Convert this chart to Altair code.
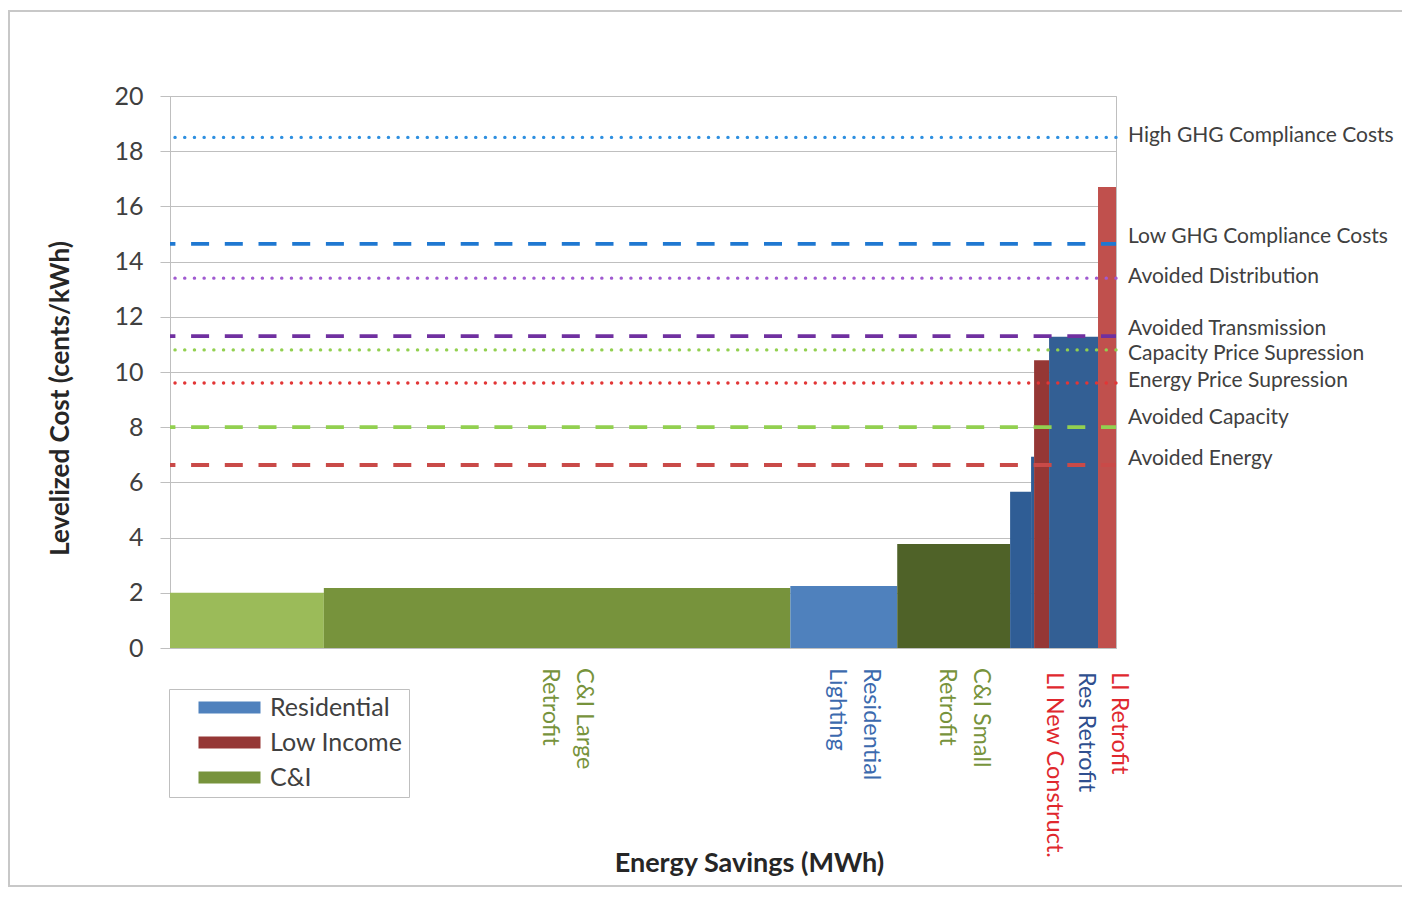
import altair as alt
import pandas as pd

# ---- bars of the supply curve ----
bar_ids = ["C&I Other", "C&I Large Retrofit", "Residential Lighting", "C&I Small Retrofit",
           "Res Other A", "Res Other B", "LI New Construct.", "Res Retrofit", "LI Retrofit"]
bar_groups = ["C&I", "C&I", "Residential", "C&I", "Residential", "Residential",
              "Low Income", "Residential", "Low Income"]
bar_savings = [154, 467, 107, 113, 21, 3, 15, 49, 18]
bar_costs = [2.0, 2.17, 2.25, 3.77, 5.66, 6.93, 10.43, 11.28, 16.7]
bar_colors = ["#9BBB59", "#77933C", "#4F81BD", "#4F6228", "#2F5D95", "#2F5D95",
              "#953735", "#335F94", "#C0504D"]
cat_labels = ["", "C&I Large\nRetrofit", "Residential\nLighting", "C&I Small\nRetrofit",
              "", "", "LI New Construct.", "Res Retrofit", "LI Retrofit"]
cat_label_colors = ["#77933C", "#77933C", "#3C6AAE", "#77933C", "#3C6AAE", "#3C6AAE",
                    "#E0282E", "#2F4F8F", "#E0282E"]

# ---- avoided cost benchmark lines ----
line_names = ["High GHG Compliance Costs", "Low GHG Compliance Costs", "Avoided Distribution",
              "Avoided Transmission", "Capacity Price Supression", "Energy Price Supression",
              "Avoided Capacity", "Avoided Energy"]
line_values = [18.5, 14.64, 13.4, 11.3, 10.8, 9.6, 8.0, 6.63]
line_styles = ["dotted", "dashed", "dotted", "dashed", "dotted", "dotted", "dashed", "dashed"]
line_colors = ["#2E8FE0", "#1F78D1", "#A05AD0", "#7030A0", "#92D050", "#E23636", "#92D050", "#C94A48"]
label_y = [18.55, 14.89, 13.44, 11.56, 10.65, 9.67, 8.33, 6.85]

legend_values = ["Residential Lighting", "LI New Construct.", "C&I Large Retrofit"]

W, H = 946, 552
FONT = "Lato"

bars = pd.DataFrame({
    "bar_id": bar_ids, "group": bar_groups, "savings": bar_savings,
    "cost": bar_costs, "label": cat_labels, "label_color": cat_label_colors,
})
bars["x1"] = bars["savings"].cumsum()
bars["x0"] = bars["x1"] - bars["savings"]
bars["center"] = (bars["x0"] + bars["x1"]) / 2
total = float(bars["x1"].max())

lines = pd.DataFrame({"name": line_names, "value": line_values, "style": line_styles,
                      "color": line_colors, "label_y": label_y})

xscale = alt.Scale(domain=[0, total], nice=False, zero=True)
yscale = alt.Scale(domain=[0, 20], nice=False)

legend_expr = ("(datum.label == 'Residential Lighting' ? 'Residential' : "
               "datum.label == 'LI New Construct.' ? 'Low Income' : 'C&I') + '\u00a0\u00a0'")

bar_layer = alt.Chart(bars).mark_rect().encode(
    x=alt.X("x0:Q", scale=xscale,
            axis=alt.Axis(labels=False, ticks=False, grid=False, domainColor="#BFBFBF",
                          title="Energy Savings (MWh)", titleFontSize=27, titleFont=FONT,
                          titleFontWeight="bold", titleColor="#262626",
                          titleX=579, titleY=215, titleAlign="center", titleBaseline="middle")),
    x2="x1:Q",
    y=alt.Y("cost:Q", scale=yscale,
            axis=alt.Axis(values=list(range(0, 21, 2)), grid=True, gridColor="#BFBFBF",
                          domainColor="#BFBFBF", tickColor="#BFBFBF", tickSize=10,
                          labelFontSize=25, labelFont=FONT, labelColor="#404040", labelPadding=17,
                          title="Levelized Cost (cents/kWh)", titleFontSize=26, titleFont=FONT,
                          titleFontWeight="bold", titleColor="#262626",
                          titleX=-110, titleY=302, titleAngle=-90, titleAlign="center",
                          titleBaseline="middle")),
    y2=alt.datum(0),
    fill=alt.Fill("bar_id:N", scale=alt.Scale(domain=bar_ids, range=bar_colors),
                  legend=alt.Legend(values=legend_values, labelExpr=legend_expr, title=None,
                                    orient="none", legendX=-1, legendY=593,
                                    strokeColor="#BFBFBF", padding=6,
                                    symbolType="M-3.1,-0.6H3.1V0.6H-3.1Z", symbolSize=400,
                                    symbolOffset=42, symbolStrokeWidth=0,
                                    labelFontSize=25, labelFont=FONT, labelColor="#404040",
                                    labelOffset=28, rowPadding=9)),
)

dotted = alt.Chart(lines).transform_filter("datum.style == 'dotted'").mark_rule(
    strokeWidth=3.4, strokeDash=[0.1, 9.6], strokeCap="round"
).encode(y=alt.Y("value:Q", scale=yscale), stroke=alt.Stroke("color:N", scale=None))

dashed = alt.Chart(lines).transform_filter("datum.style == 'dashed'").mark_rule(
    strokeWidth=3.8, strokeDash=[18, 15.7], strokeDashOffset=3
).encode(y=alt.Y("value:Q", scale=yscale), stroke=alt.Stroke("color:N", scale=None))

right_labels = alt.Chart(lines).mark_text(
    align="left", baseline="middle", fontSize=21, font=FONT, color="#404040"
).encode(x=alt.value(W + 12), y=alt.Y("label_y:Q", scale=yscale), text="name:N")

cat_one = alt.Chart(bars).transform_filter(
    "datum.label != '' && indexof(datum.label, '\\n') < 0"
).mark_text(
    angle=90, align="left", baseline="middle", fontSize=23.5, font=FONT, dy=-12
).encode(x=alt.X("center:Q", scale=xscale), y=alt.value(H + 24),
         text="label:N", color=alt.Color("label_color:N", scale=None))

cat_two = alt.Chart(bars).transform_filter(
    "indexof(datum.label, '\\n') >= 0"
).mark_text(
    angle=90, align="left", baseline="middle", fontSize=23.5, font=FONT,
    lineBreak="\n", lineHeight=34, dy=-27
).encode(x=alt.X("center:Q", scale=xscale), y=alt.value(H + 20),
         text="label:N", color=alt.Color("label_color:N", scale=None))

frame = alt.Chart(pd.DataFrame({"k": [0]})).mark_rect(
    fillOpacity=0, stroke="#C8C8C8", strokeWidth=2
).encode(x=alt.value(-161), x2=alt.value(1300), y=alt.value(-85), y2=alt.value(H + 238))

chart = alt.layer(frame, bar_layer, dotted, dashed, right_labels, cat_one, cat_two).resolve_scale(
    color="independent", fill="independent", stroke="independent"
).properties(
    width=W, height=H,
    autosize=alt.AutoSizeParams(type="none"),
    padding={"left": 162, "top": 88, "right": 286, "bottom": 240},
).configure(font=FONT).configure_view(stroke="#BFBFBF")

chart.save("out.html", embed_options={"renderer": "svg", "actions": False})
